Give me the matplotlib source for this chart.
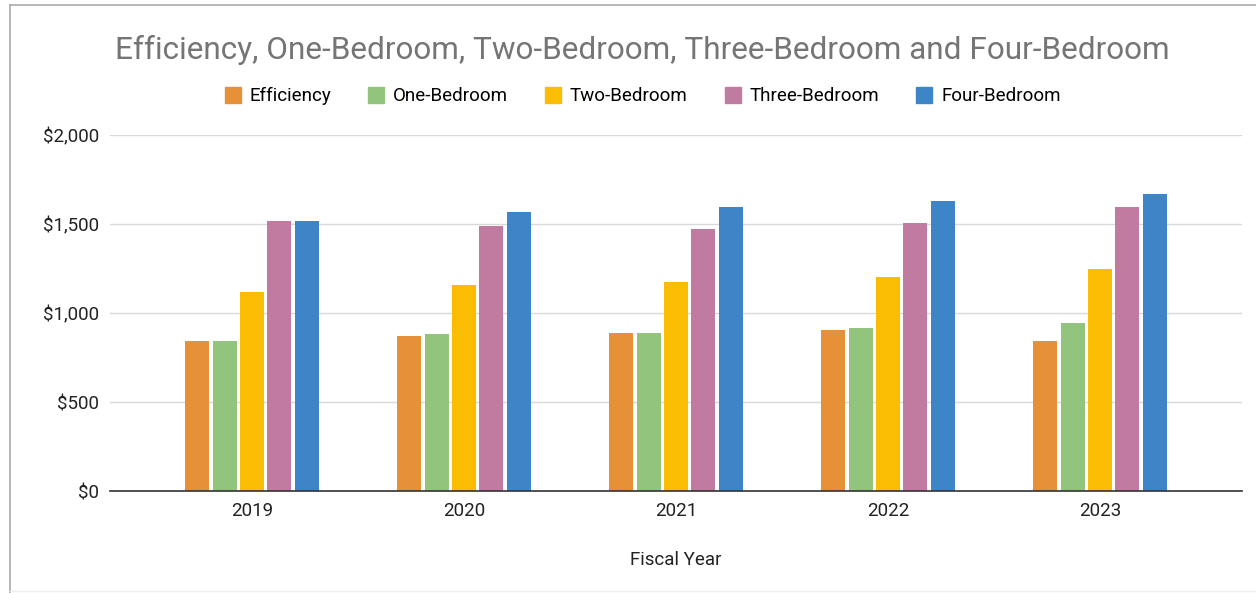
import matplotlib.pyplot as plt
import numpy as np
from matplotlib.lines import Line2D
from matplotlib.ticker import FuncFormatter

years = ['2019', '2020', '2021', '2022', '2023']
efficiency = [843, 872, 889, 906, 844]
one_bed = [843, 882, 889, 916, 942]
two_bed = [1120, 1157, 1176, 1204, 1247]
three_bed = [1515, 1490, 1470, 1507, 1595]
four_bed = [1517, 1567, 1597, 1631, 1667]

names = ['Efficiency', 'One-Bedroom', 'Two-Bedroom', 'Three-Bedroom', 'Four-Bedroom']
colors = ['#E69138', '#93C47D', '#FBBC04', '#C27BA0', '#3D85C6']
series = [efficiency, one_bed, two_bed, three_bed, four_bed]

fig = plt.figure(figsize=(12.56, 5.93), dpi=100)
ax = fig.add_axes([0.0876, 0.172, 0.9013, 0.600])

x = np.arange(len(years))
step = 0.129
w = 0.113
for i, (vals, c, n) in enumerate(zip(series, colors, names)):
    ax.bar(x + (i - 2) * step, vals, width=w, color=c, label=n, zorder=3)

ax.set_xlim(-0.67, 4.67)
ax.set_ylim(0, 2000)
ax.set_yticks([0, 500, 1000, 1500, 2000])
ax.yaxis.set_major_formatter(FuncFormatter(lambda v, p: '${:,.0f}'.format(v)))
ax.set_xticks(x)
ax.set_xticklabels(years)
ax.grid(axis='y', color='#d9d9d9', linewidth=1, zorder=0)
for s in ['top', 'right', 'left']:
    ax.spines[s].set_visible(False)
ax.spines['bottom'].set_color('#333333')
ax.spines['bottom'].set_linewidth(1.2)
ax.spines['bottom'].set_zorder(4)
ax.tick_params(axis='both', length=0, labelsize=13.5, colors='#222222', pad=8)
for lab in ax.get_xticklabels() + ax.get_yticklabels():
    lab.set_family('Roboto')
ax.set_xlabel('Fiscal Year', fontsize=13.5, family='Roboto', color='#222222', labelpad=22)

fig.text(0.511, 0.915, 'Efficiency, One-Bedroom, Two-Bedroom, Three-Bedroom and Four-Bedroom',
         ha='center', va='center', fontsize=22.7, color='#757575', family='Roboto')

handles = [Line2D([], [], marker='s', linestyle='none', markersize=12, color=c) for c in colors]
fig.legend(handles, names, loc='center', bbox_to_anchor=(0.511, 0.838), ncol=5, frameon=False,
           prop={'family': 'Roboto', 'size': 13.5}, handletextpad=0.4, columnspacing=1.9,
           handlelength=1.0)

# outer frame
fig.add_artist(Line2D([0.008, 0.008], [0.0, 0.992], color='#aaaaaa', linewidth=1.2))
fig.add_artist(Line2D([0.008, 1.0], [0.992, 0.992], color='#aaaaaa', linewidth=1.2))
fig.add_artist(Line2D([0.008, 1.0], [0.003, 0.003], color='#eeeeee', linewidth=1.0))

fig.savefig('out.png', dpi=100)
